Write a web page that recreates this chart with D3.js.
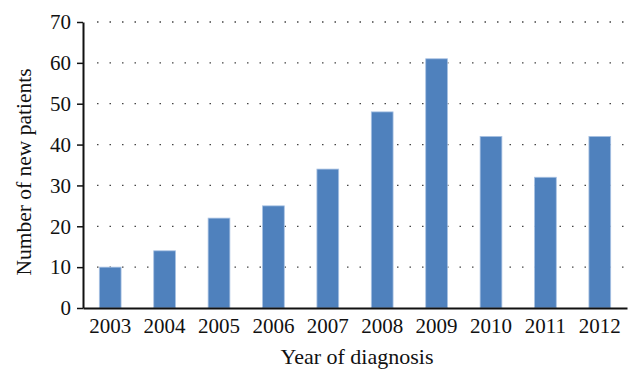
<!DOCTYPE html>
<html>
<head>
    <style>
        body { margin: 0; background: #fff; }
        text { font-family: "Liberation Serif", "DejaVu Serif", serif; fill: #111; }
    </style>
</head>
<body>
    <svg width="642" height="384"></svg>

    <script src="https://d3js.org/d3.v7.min.js"></script>
    <script>
        // Data
        const years = ["2003", "2004", "2005", "2006", "2007", "2008", "2009", "2010", "2011", "2012"];
        const patients = [10, 14, 22, 25, 34, 48, 61, 42, 32, 42];
        const yTicks = [0, 10, 20, 30, 40, 50, 60, 70];

        const svg = d3.select("svg");
        const margin = {top: 22, right: 15, bottom: 76, left: 83};
        const width = 642 - margin.left - margin.right,
              height = 384 - margin.top - margin.bottom;

        const g = svg.append("g").attr("transform", `translate(${margin.left},${margin.top})`);

        const x = d3.scaleBand().domain(years).range([0, width]).paddingInner(0.6).paddingOuter(0.3);
        const y = d3.scaleLinear().domain([0, 70]).range([height, 0]);

        // Dotted gridlines
        g.append("g")
            .selectAll("line")
            .data(yTicks.filter(d => d > 0))
            .join("line")
            .attr("x1", 14).attr("x2", width)
            .attr("y1", d => y(d)).attr("y2", d => y(d))
            .attr("stroke", "#444")
            .attr("stroke-width", 1.3)
            .attr("stroke-dasharray", "1.5,11");

        // Bars
        g.append("g")
            .selectAll("rect")
            .data(years.map((yr, i) => ({yr, v: patients[i]})))
            .join("rect")
            .attr("x", d => x(d.yr))
            .attr("width", x.bandwidth())
            .attr("y", d => y(d.v))
            .attr("height", d => height - y(d.v))
            .attr("fill", "#4f81bd")
            .attr("stroke", "#a9c2e3")
            .attr("stroke-width", 0.8);

        // Axes
        const yAxis = g.append("g")
            .call(d3.axisLeft(y).tickValues(yTicks).tickSize(6).tickPadding(6).tickSizeOuter(0));
        yAxis.select(".domain").attr("stroke", "#111").attr("stroke-width", 2);
        yAxis.selectAll(".tick line").attr("stroke", "#111").attr("stroke-width", 1.5);
        yAxis.selectAll("text").attr("font-size", 21).attr("fill", "#111");

        const xAxis = g.append("g")
            .attr("transform", `translate(0,${height})`)
            .call(d3.axisBottom(x).tickSize(0).tickPadding(10).tickSizeOuter(0));
        xAxis.select(".domain").attr("stroke", "#111").attr("stroke-width", 2);
        xAxis.selectAll("text").attr("font-size", 21).attr("fill", "#111");

        // Axis titles
        svg.append("text")
            .attr("x", 357)
            .attr("y", 364)
            .attr("text-anchor", "middle")
            .attr("font-size", 22)
            .text("Year of diagnosis");

        svg.append("text")
            .attr("transform", `translate(31,172) rotate(-90)`)
            .attr("text-anchor", "middle")
            .attr("font-size", 21.5)
            .text("Number of new patients");
    </script>
</body>
</html>
